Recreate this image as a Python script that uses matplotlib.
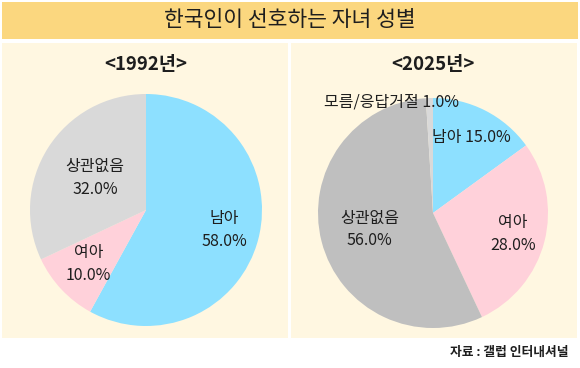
import numpy as np
import matplotlib
matplotlib.use('Agg')
import matplotlib.pyplot as plt
from matplotlib.patches import Rectangle

plt.rcParams['font.family'] = ['Noto Sans CJK KR', 'DejaVu Sans']

title = '한국인이 선호하는 자녀 성별'
source = '자료 : 갤럽 인터내셔널'

years = ['<1992년>', '<2025년>']
labels_1992 = ['남아', '여아', '상관없음']
values_1992 = [58.0, 10.0, 32.0]
labels_2025 = ['남아', '여아', '상관없음', '모름/응답거절']
values_2025 = [15.0, 28.0, 56.0, 1.0]

BLUE = '#8de0ff'
PINK = '#ffd1da'
LGREY = '#d9d9d9'
DGREY = '#bfbfbf'
TXT = '#1e1e1e'
LBL = 11.5

W, H = 580, 368
fig = plt.figure(figsize=(W / 100, H / 100), dpi=100)
fig.patch.set_facecolor('white')


def px_rect(x, y, w, h, color):
    # pixel box (top-left origin) -> figure fraction
    fig.patches.append(Rectangle((x / W, 1 - (y + h) / H), w / W, h / H,
                                 transform=fig.transFigure, facecolor=color,
                                 edgecolor='none', zorder=-5))


px_rect(2, 2, 576, 37, '#fbd77f')
px_rect(2, 43, 286, 295, '#fff7e1')
px_rect(291, 43, 286, 295, '#fff7e1')

fig.text(290 / W, 1 - 20 / H, title, ha='center', va='center',
         fontsize=15.5, color=TXT)
fig.text(146 / W, 1 - 64 / H, years[0], ha='center', va='center',
         fontsize=13.4, fontweight='bold', color=TXT)
fig.text(433 / W, 1 - 64 / H, years[1], ha='center', va='center',
         fontsize=13.4, fontweight='bold', color=TXT)
fig.text(568 / W, 1 - 352 / H, source, ha='right', va='center',
         fontsize=9.2, fontweight='bold', color=TXT)


def draw_pie(cx, cy, r, values, colors, label_dist):
    ax = fig.add_axes([(cx - r) / W, 1 - (cy + r) / H, 2 * r / W, 2 * r / H],
                      zorder=2)
    ax.patch.set_alpha(0)
    wedges, _ = ax.pie(values, colors=colors, startangle=90, counterclock=False,
                       radius=1, wedgeprops=dict(linewidth=0))
    ax.set_xlim(-1, 1)
    ax.set_ylim(-1, 1)
    ax.set_aspect('equal')
    ax.axis('off')
    pos = []
    for w, d in zip(wedges, label_dist):
        mid = np.deg2rad((w.theta1 + w.theta2) / 2)
        pos.append((d * np.cos(mid), d * np.sin(mid)))
    return ax, pos


ax1, pos1 = draw_pie(146, 210, 116, values_1992, [BLUE, PINK, LGREY],
                     [0.7, 0.68, 0.52])
for (x, y), lab, v in zip(pos1, labels_1992, values_1992):
    ax1.text(x, y, f'{lab}\n{v:.1f}%', ha='center', va='center',
             fontsize=LBL, color=TXT, linespacing=1.45)

ax2, pos2 = draw_pie(433, 213, 115, values_2025, [BLUE, PINK, DGREY, LGREY],
                     [0.74, 0.72, 0.57, 1.03])
for i, ((x, y), lab, v) in enumerate(zip(pos2, labels_2025, values_2025)):
    if i == 0:
        ax2.text(x, y, f'{lab} {v:.1f}%', ha='center', va='center',
                 fontsize=LBL, color=TXT)
    elif i == 3:
        # tiny slice: label sits above the pie, shifted left
        ax2.text(-0.36, 0.965, f'{lab} {v:.1f}%', ha='center', va='center',
                 fontsize=LBL, color=TXT, clip_on=False)
    else:
        ax2.text(x, y, f'{lab}\n{v:.1f}%', ha='center', va='center',
                 fontsize=LBL, color=TXT, linespacing=1.45)

fig.savefig('out.png', dpi=100)
